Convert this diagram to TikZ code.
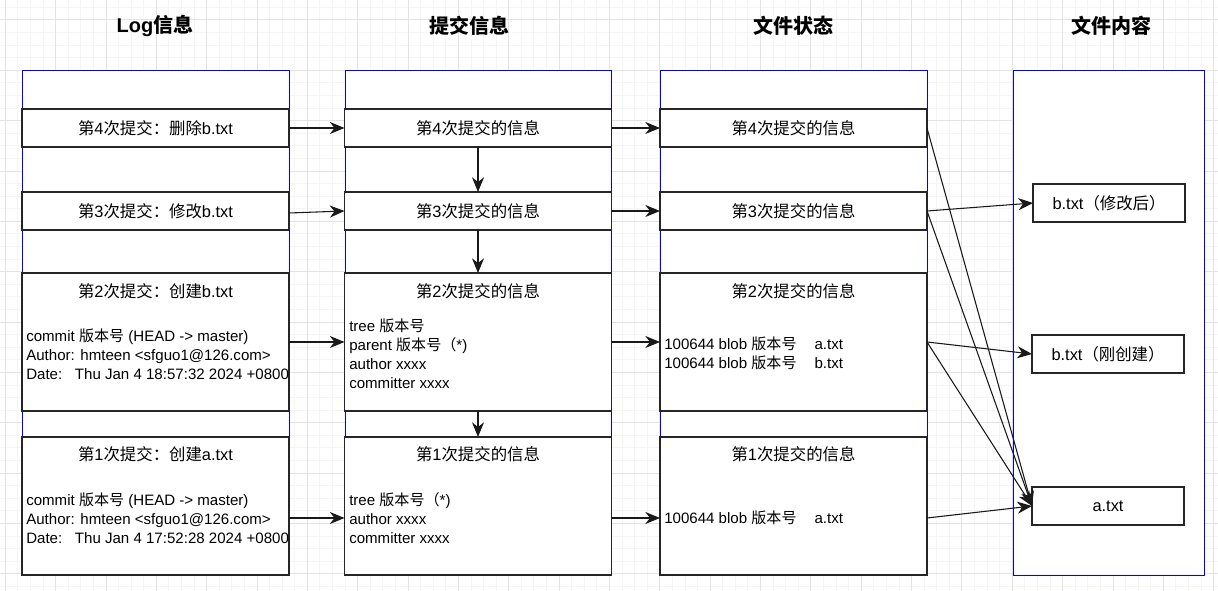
\documentclass[tikz,border=0pt]{standalone}
\usepackage{fontspec}
\setmainfont{Liberation Sans}
\newfontfamily\zh{Noto Sans CJK SC}
\usetikzlibrary{arrows.meta}

\tikzset{
  gridminor/.style={draw=black!4,line width=0.75pt},
  gridmajor/.style={draw=black!11,line width=0.75pt},
  column/.style={draw=blue,fill=white,line width=0.75pt},
  rowbox/.style={draw=black!85,fill=white,line width=0.8pt,inner sep=0pt,outer sep=0pt,
    minimum width=200.25pt,minimum height=28.5pt,font=\fontsize{12.3pt}{15pt}\selectfont},
  tallbox/.style={rowbox,minimum height=103.5pt},
  filebox/.style={rowbox,minimum width=114pt},
  title/.style={inner sep=0pt,font=\fontsize{12.3pt}{15pt}\selectfont},
  body/.style={inner sep=0pt,anchor=west,align=left,font=\fontsize{11.3pt}{14.25pt}\selectfont},
  head/.style={inner sep=0pt,font=\fontsize{15pt}{18pt}\selectfont\bfseries},
  arr/.style={-{Stealth[length=11pt,width=9pt,inset=3.5pt]},draw=black!90,line width=0.8pt}
}

\begin{document}
\begin{tikzpicture}[x=0.75pt,y=-0.75pt]
  \useasboundingbox (0,0) rectangle (1218,591);
  \fill[white] (0,0) rectangle (1218,591);

  %grid
  \foreach \i in {0,...,96}
    \draw[gridminor] ({5.3+12.5875*\i},0) -- ++(0,591);
  \foreach \i in {0,...,47}
    \draw[gridminor] (0,{7.4+12.5875*\i}) -- ++(1218,0);
  \foreach \i in {0,...,24}
    \draw[gridmajor] ({5.3+50.35*\i},0) -- ++(0,591);
  \foreach \i in {0,...,11}
    \draw[gridmajor] (0,{20+50.35*\i}) -- ++(1218,0);

  %headers
  \node[head] (hlog) at (155,26) {Log{\zh 信息}};
  \node[head] (hsub) at (469,26) {\zh 提交信息};
  \node[head] (hst) at (793,26) {\zh 文件状态};
  \node[head] (hfile) at (1111,26) {\zh 文件内容};

  %columns
  \draw[column] (22,71) rectangle (289,575);
  \draw[column] (345,71) rectangle (611,575);
  \draw[column] (660,71) rectangle (927,575);
  \draw[column] (1013,71) rectangle (1204,575);

  %log
  \node[rowbox] (log4) at (155.5,128) {{\zh 第}4{\zh 次提交：删除}b.txt};
  \node[rowbox] (log3) at (155.5,211) {{\zh 第}3{\zh 次提交：修改}b.txt};
  \node[tallbox] (log2) at (155.5,342) {};
  \node[title] (log2t) at (155.5,291) {{\zh 第}2{\zh 次提交：创建}b.txt};
  \node[body] (log2b) at (26,354) {commit {\zh 版本号} (HEAD -> master)\\
    Author: hmteen <sfguo1@126.com>\\
    Date:\hspace{9.5pt}Thu Jan 4 18:57:32 2024 +0800};
  \node[tallbox] (log1) at (155.5,506) {};
  \node[title] (log1t) at (155.5,454) {{\zh 第}1{\zh 次提交：创建}a.txt};
  \node[body] (log1b) at (26,518) {commit {\zh 版本号} (HEAD -> master)\\
    Author: hmteen <sfguo1@126.com>\\
    Date:\hspace{9.5pt}Thu Jan 4 17:52:28 2024 +0800};

  %commits
  \node[rowbox] (sub4) at (478,128) {{\zh 第}4{\zh 次提交的信息}};
  \node[rowbox] (sub3) at (478,211) {{\zh 第}3{\zh 次提交的信息}};
  \node[tallbox] (sub2) at (478,342) {};
  \node[title] (sub2t) at (478,291) {{\zh 第}2{\zh 次提交的信息}};
  \node[body] (sub2b) at (349,353.5) {tree {\zh 版本号}\\
    parent {\zh 版本号（}*)\\
    author xxxx\\
    committer xxxx};
  \node[tallbox] (sub1) at (478,506) {};
  \node[title] (sub1t) at (478,454) {{\zh 第}1{\zh 次提交的信息}};
  \node[body] (sub1b) at (349,518) {tree {\zh 版本号（}*)\\
    author xxxx\\
    committer xxxx};

  %states
  \node[rowbox] (st4) at (793.5,128) {{\zh 第}4{\zh 次提交的信息}};
  \node[rowbox] (st3) at (793.5,211) {{\zh 第}3{\zh 次提交的信息}};
  \node[tallbox] (st2) at (793.5,342) {};
  \node[title] (st2t) at (793.5,291) {{\zh 第}2{\zh 次提交的信息}};
  \node[body] (st2b) at (664,353.5) {100644 blob {\zh 版本号}\hspace{13.5pt}a.txt\\
    100644 blob {\zh 版本号}\hspace{13.5pt}b.txt};
  \node[tallbox] (st1) at (793.5,506) {};
  \node[title] (st1t) at (793.5,454) {{\zh 第}1{\zh 次提交的信息}};
  \node[body] (st1b) at (664,518) {100644 blob {\zh 版本号}\hspace{13.5pt}a.txt};

  %files
  \node[filebox] (fb2) at (1109,203) {b.txt{\zh （修改后）}};
  \node[filebox] (fb1) at (1108,354) {b.txt{\zh （刚创建）}};
  \node[filebox] (fa) at (1108,506) {a.txt};

  %arrows
  \draw[arr] (log4.east) -- (sub4.west);
  \draw[arr] ([yshift=-1.5pt]log3.east) -- (sub3.west);
  \draw[arr] (log2.east) -- (sub2.west);
  \draw[arr] ([yshift=-9pt]log1.east) -- ([yshift=-9pt]sub1.west);
  \draw[arr] (sub4.south) -- (sub3.north);
  \draw[arr] (sub3.south) -- (sub2.north);
  \draw[arr] (sub2.south) -- (sub1.north);
  \draw[arr] (sub4.east) -- (st4.west);
  \draw[arr] (sub3.east) -- (st3.west);
  \draw[arr] (sub2.east) -- (st2.west);
  \draw[arr] ([yshift=-9pt]sub1.east) -- ([yshift=-9pt]st1.west);
  \draw[arr] (st4.east) -- (fa.west);
  \draw[arr] (st3.east) -- (fb2.west);
  \draw[arr] (st3.east) -- (fa.west);
  \draw[arr] (st2.east) -- (fb1.west);
  \draw[arr] (st2.east) -- (fa.west);
  \draw[arr] ([yshift=-9pt]st1.east) -- (fa.west);
\end{tikzpicture}
\end{document}
